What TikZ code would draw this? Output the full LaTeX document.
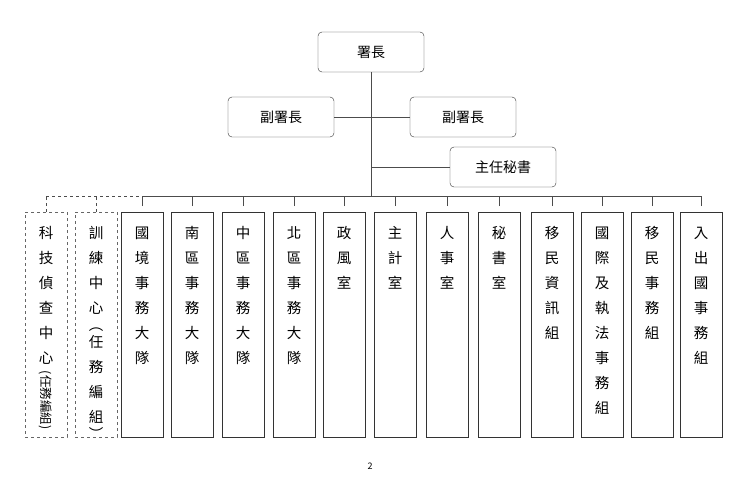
\documentclass[tikz,border=0pt]{standalone}
\usepackage{fontspec}
\setmainfont{Noto Sans CJK TC}
\usetikzlibrary{positioning}

\begin{document}
\begin{tikzpicture}[x=1pt,y=-1pt,
    boss/.style={
        rectangle,
        rounded corners=4pt,
        draw=black!80,
        minimum width=106pt, minimum height=40pt,
        font=\fontsize{14}{16}\selectfont},
    unit/.style={
        rectangle,
        draw=black!80,
        minimum width=42pt, minimum height=225pt,
        anchor=north,
        inner sep=0pt,
        align=center,
        font=\fontsize{14.5}{25}\selectfont},
    task/.style={unit, dashed, draw=black!60},
    link/.style={draw=black!70, line width=0.8pt}]

    \useasboundingbox (0,0) rectangle (748,479);

    \node (chief) [boss] at (371,52) {署長};
    \node (dep_l) [boss] at (281,117) {副署長};
    \node (dep_r) [boss] at (463,117) {副署長};
    \node (sec) [boss] at (503,167) {主任秘書};

    \coordinate (bus) at (371,196);
    \path[link] (chief) -- (bus);
    \path[link] (dep_l) -- (dep_l -| chief);
    \path[link] (dep_r) -- (dep_r -| chief);
    \path[link] (sec) -- (sec -| chief);

    % task groups (dashed)
    \foreach \x/\name/\txt in {46/tech/{科\\技\\偵\\查\\中\\心},
                               96/train/{訓\\練\\中\\心\\[-8pt]︵\\[-8pt]任\\務\\編\\組\\[-8pt]︶}} {
        \node (\name) [task] at (\x,212) {\vbox to 212pt{\vskip2pt\hbox{\begin{tabular}{c}\txt\end{tabular}}\vfill}};
        \draw[link, dashed] (\name.north) -- ++(0,-16);
    }
    \node (tech_tag) [rotate=-90, inner sep=0pt, font=\fontsize{12.5}{14}\selectfont] at (46,400) {(任務編組)};
    \draw[link, dashed] (tech.north) ++(0,-16) -- (142,196);

    % regular units
    \foreach \x/\name/\txt in {142/border/{國\\境\\事\\務\\大\\隊},
                               192/south/{南\\區\\事\\務\\大\\隊},
                               243/central/{中\\區\\事\\務\\大\\隊},
                               294/north/{北\\區\\事\\務\\大\\隊},
                               344/ethics/{政\\風\\室},
                               395/account/{主\\計\\室},
                               447/person/{人\\事\\室},
                               499/secret/{秘\\書\\室},
                               552/info/{移\\民\\資\\訊\\組},
                               602/intl/{國\\際\\及\\執\\法\\事\\務\\組},
                               652/immig/{移\\民\\事\\務\\組},
                               701/entry/{入\\出\\國\\事\\務\\組}} {
        \node (\name) [unit] at (\x,212) {\vbox to 212pt{\vskip2pt\hbox{\begin{tabular}{c}\txt\end{tabular}}\vfill}};
        \draw[link] (\name.north) ++(0,-6) -- ++(0,-10);
    }
    \draw[link] (142,196) -- (701,196);

    \node (page) at (370,466) {\fontsize{9}{10}\selectfont 2};
\end{tikzpicture}
\end{document}
